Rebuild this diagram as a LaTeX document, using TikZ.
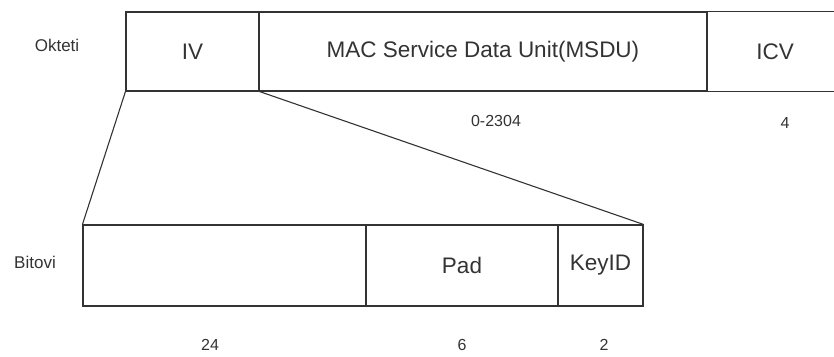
\documentclass[tikz,border=0pt]{standalone}
\usepackage{fontspec}
\setmainfont{Liberation Sans}
\begin{document}
\begin{tikzpicture}[x = 1pt, y = -1pt, line width = 1.1pt, color = black!80, field/.style = {draw, inner sep = 0pt, font = \fontsize{22.5}{26}\selectfont}, side/.style = {font = \fontsize{17}{20}\selectfont}, count/.style = {font = \fontsize{16}{19}\selectfont}]

  \useasboundingbox (0, 0) rectangle (834, 356);

  \node[side] (okteti) at (57, 45) { Okteti };
  \node[field, minimum width = 133pt, minimum height = 79pt] (iv) at (192.5, 51.5) { IV };
  \node[field, minimum width = 448pt, minimum height = 79pt] (msdu) at (483, 51.5) { MAC Service Data Unit(MSDU) };
  \node[field, draw = none, minimum width = 136pt, minimum height = 79pt] (icv) at (775, 51.5) { ICV };
  \draw (icv.north west) -- (icv.north east);
  \draw (icv.south west) -- (icv.south east);

  \node[count] (msdulen) at (496, 121) { 0-2304 };
  \node[count] (icvlen) at (785, 123) { 4 };

  \node[side] (bitovi) at (35, 262) { Bitovi };
  \node[field, minimum width = 283pt, minimum height = 81pt] (bits) at (224.5, 265.5) {};
  \node[field, minimum width = 192pt, minimum height = 81pt] (pad) at (462, 265.5) { Pad };
  \node[field, minimum width = 85pt, minimum height = 81pt] (keyid) at (600.5, 265.5) { KeyID };

  \node[count] (bitslen) at (210, 345) { 24 };
  \node[count] (padlen) at (462, 345) { 6 };
  \node[count] (keyidlen) at (604, 345) { 2 };

  \draw (iv.south west) -- (bits.north west);
  \draw (iv.south east) -- (keyid.north east);

\end{tikzpicture}
\end{document}
